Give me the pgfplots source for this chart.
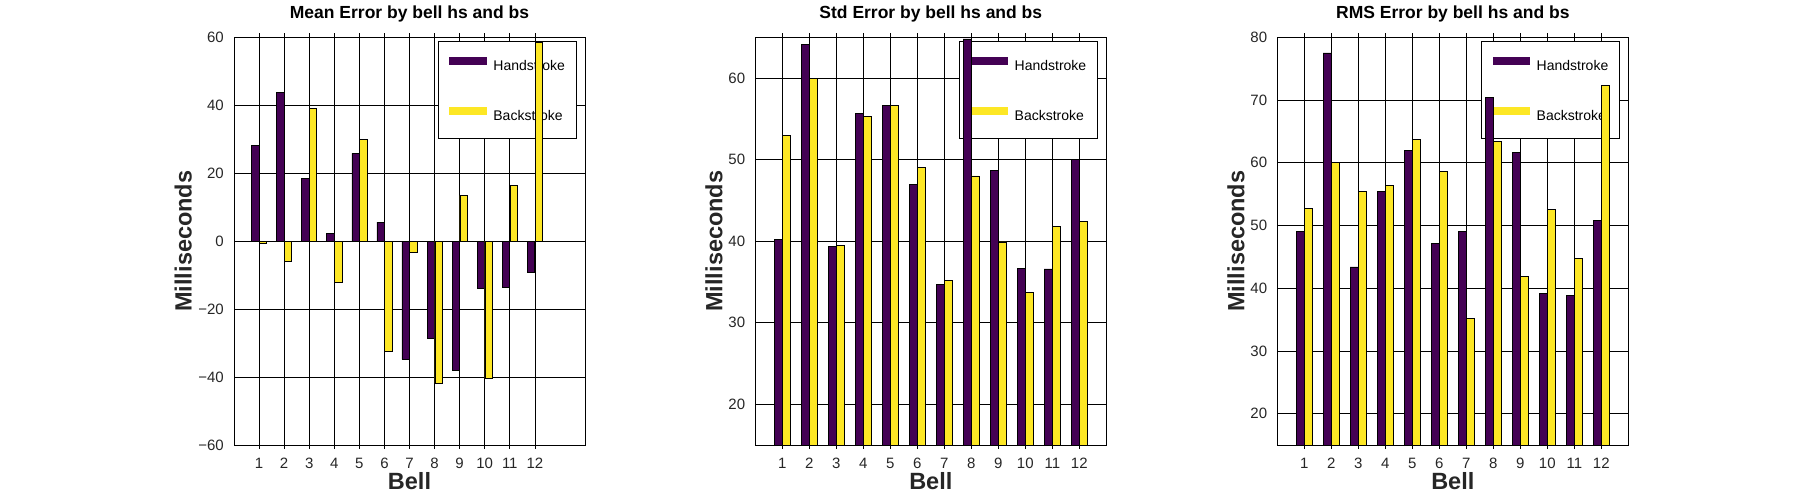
\documentclass[border=0pt]{standalone}
\usepackage{fontspec}
\setmainfont{Liberation Sans}
\usepackage{pgfplots}
\usepackage{pgfplotstable}
\pgfplotsset{compat=1.18}
\definecolor{hs}{HTML}{440154}
\definecolor{bs}{HTML}{FDE725}
\definecolor{lab}{HTML}{262626}

\pgfplotstableread{
x hs bs
1 28.2 -0.6
2 43.8 -6.0
3 18.5 39.1
4 2.3 -12.1
5 25.8 30.0
6 5.6 -32.5
7 -34.8 -3.3
8 -28.6 -41.8
9 -38.0 13.5
10 -13.9 -40.4
11 -13.6 16.4
12 -9.2 58.4
}\meanT
\pgfplotstableread{
x hs bs
1 40.2 53.0
2 64.1 60.0
3 39.4 39.5
4 55.7 55.3
5 56.6 56.6
6 47.0 49.0
7 34.7 35.2
8 64.8 48.0
9 48.7 39.9
10 36.7 33.7
11 36.6 41.8
12 50.0 42.4
}\stdT
\pgfplotstableread{
x hs bs
1 49.1 52.7
2 77.5 60.0
3 43.4 55.4
4 55.4 56.4
5 62.0 63.7
6 47.2 58.6
7 49.1 35.2
8 70.4 63.4
9 61.7 41.9
10 39.2 52.6
11 38.9 44.8
12 50.8 72.3
}\rmsT

\pgfplotsset{
  myax/.style={
    set layers, clip mode=individual,
    every axis plot/.append style={on layer=axis foreground},
    scale only axis, width=351pt, height=407.7pt,
    anchor=south west,
    xmin=0, xtick={1,...,12},
    grid=major, major grid style={black, line width=0.7pt},
    axis line style={line width=0.8pt},
    tick style={black, line width=0.7pt}, major tick length=4pt, tick align=inside,
    ybar, bar width=0.29,
    ticklabel style={font=\fontsize{15}{17}\selectfont, text=lab},
    /pgf/number format/assume math mode=true,
    xticklabel style={anchor=base, yshift=-20pt},
    yticklabel style={anchor=east, inner sep=0pt, xshift=-10pt},
    xlabel=Bell,
    xlabel style={font=\bfseries\fontsize{23.5}{26}\selectfont, text=lab, at={(axis description cs:0.5,-0.1103)}, anchor=base},
    ylabel=Milliseconds,
    ylabel style={font=\bfseries\fontsize{23.5}{26}\selectfont, text=lab, anchor=center},
    every axis title shift=0pt,
    title style={font=\bfseries\fontsize{17.5}{20}\selectfont, at={(axis description cs:0.5,1.0466)}, anchor=base},
    legend style={at={(axis description cs:0.9756,0.9917)}, anchor=north east, draw=black, line width=0.7pt, fill=white,
      minimum width=138pt, minimum height=97.6pt, font=\fontsize{14}{16}\selectfont, row sep=34.7pt, column sep=7pt,
      nodes={inner sep=0pt, minimum width=0pt, minimum height=0pt, text height=12pt, text depth=2pt}},
    legend cell align=left,
  },
  hsplot/.style={fill=hs, draw=black, line width=0.6pt, bar shift=-0.155,
    legend image code/.code={\fill[hs] (0pt,1.5pt) rectangle (36.6pt,8.4pt);}},
  bsplot/.style={fill=bs, draw=black, line width=0.6pt, bar shift=0.155,
    legend image code/.code={\fill[bs] (0pt,1.5pt) rectangle (36.6pt,8.4pt);}},
}

\begin{document}
\begin{tikzpicture}
\begin{axis}[myax, at={(234pt,55pt)}, xmax=14, ymin=-60, ymax=60, ytick={-60,-40,...,60},
  yticklabels={−60,−40,−20,0,20,40,60},
  title={Mean Error by bell hs and bs},
  ylabel style={at={(axis description cs:-0.145,0.5)}}]
\addplot[hsplot] table[x=x,y=hs]{\meanT};
\addplot[bsplot] table[x=x,y=bs]{\meanT};
\legend{Handstroke,Backstroke}
\end{axis}
\begin{axis}[myax, at={(755.3pt,55pt)}, xmax=13, ymin=15, ymax=65, ytick={20,30,...,60},
  title={Std Error by bell hs and bs},
  ylabel style={at={(axis description cs:-0.118,0.5)}}]
\addplot[hsplot] table[x=x,y=hs]{\stdT};
\addplot[bsplot] table[x=x,y=bs]{\stdT};
\legend{Handstroke,Backstroke}
\end{axis}
\begin{axis}[myax, at={(1277.3pt,55pt)}, xmax=13, ymin=15, ymax=80, ytick={20,30,...,80},
  title={RMS Error by bell hs and bs},
  ylabel style={at={(axis description cs:-0.118,0.5)}}]
\addplot[hsplot] table[x=x,y=hs]{\rmsT};
\addplot[bsplot] table[x=x,y=bs]{\rmsT};
\legend{Handstroke,Backstroke}
\end{axis}
\pgfresetboundingbox
\path[use as bounding box] (0,0) rectangle (1800pt,500pt);
\end{tikzpicture}
\end{document}
